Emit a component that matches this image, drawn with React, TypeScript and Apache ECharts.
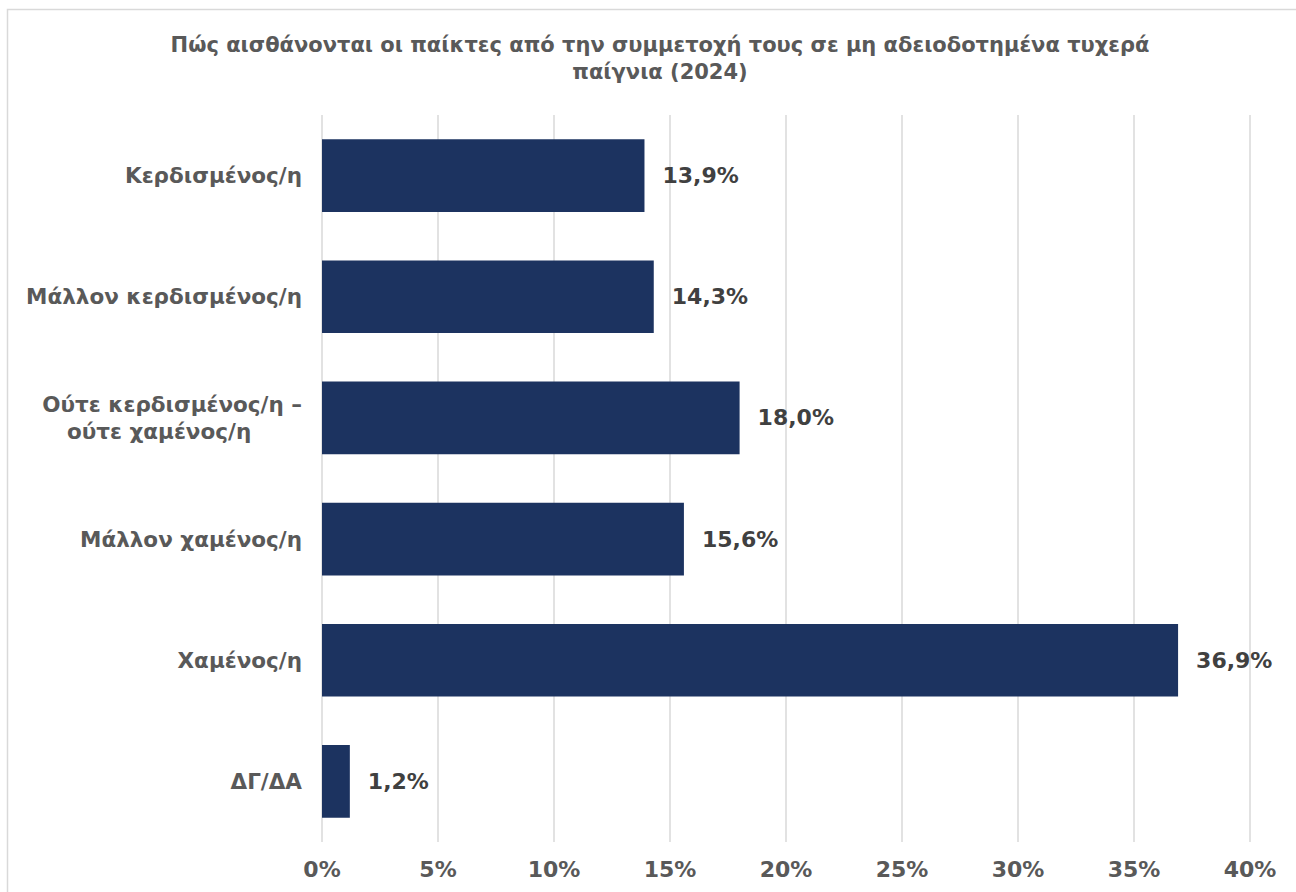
import React, { useEffect, useRef } from "react";
import * as echarts from "echarts";

const categories = [
  "Κερδισμένος/η",
  "Μάλλον κερδισμένος/η",
  "Ούτε κερδισμένος/η –\nούτε χαμένος/η",
  "Μάλλον χαμένος/η",
  "Χαμένος/η",
  "ΔΓ/ΔΑ",
];
const values = [13.9, 14.3, 18.0, 15.6, 36.9, 1.2];
const xTicks = { min: 0, max: 40, interval: 5 };
const titleText =
  "Πώς αισθάνονται οι παίκτες από την συμμετοχή τους σε μη αδειοδοτημένα τυχερά\nπαίγνια (2024)";

const FONT = "'DejaVu Sans', Verdana, sans-serif";

const labelStyle = {
  fontFamily: FONT,
  fontSize: 21.5,
  fontWeight: "bold",
  color: "#595959",
  lineHeight: 27,
  align: "center",
};

export default function App() {
  const ref = useRef<HTMLDivElement>(null);
  useEffect(() => {
    if (!ref.current) return;
    const chart = echarts.init(ref.current, null, { renderer: "svg" });
    chart.setOption({
      animation: false,
      backgroundColor: "#ffffff",
      textStyle: { fontFamily: FONT },
      title: {
        text: titleText,
        left: 660,
        top: 31,
        padding: 0,
        textAlign: "center",
        textStyle: {
          fontFamily: FONT,
          fontSize: 21,
          fontWeight: "bold",
          color: "#595959",
          lineHeight: 27,
        },
      },
      graphic: [
        {
          type: "rect",
          shape: { x: 7.5, y: 9.5, width: 1400, height: 1000 },
          style: { fill: "none", stroke: "#d9d9d9", lineWidth: 1.5 },
          silent: true,
          z: -1,
        },
      ],
      grid: { left: 322, right: 46, top: 115, bottom: 50, containLabel: false },
      xAxis: {
        type: "value",
        min: xTicks.min,
        max: xTicks.max,
        interval: xTicks.interval,
        axisLine: { show: false },
        axisTick: { show: false },
        splitLine: { show: true, lineStyle: { color: "#d9d9d9", width: 1.5 } },
        axisLabel: {
          formatter: "{value}%",
          fontFamily: FONT,
          fontSize: 22,
          fontWeight: "bold",
          color: "#595959",
          margin: 16,
        },
      },
      yAxis: {
        type: "category",
        data: categories,
        inverse: true,
        axisLine: { show: false },
        axisTick: { show: false },
        axisLabel: {
          margin: 20,
          formatter: (v: string) => {
            const lines = v.split("\n");
            return lines
              .map((l, i) => (i > 0 ? `{b|${l}}` : `{a|${l}}`))
              .join("\n");
          },
          rich: {
            a: labelStyle,
            b: { ...labelStyle, padding: [0, 26, 0, 0] },
          },
        },
      },
      series: [
        {
          type: "bar",
          data: values,
          barCategoryGap: "40%",
          itemStyle: { color: "#1c3360" },
          label: {
            show: true,
            position: "right",
            distance: 18,
            formatter: (p: any) => p.value.toFixed(1).replace(".", ",") + "%",
            fontFamily: FONT,
            fontSize: 22,
            fontWeight: "bold",
            color: "#404040",
          },
        },
      ],
    });
    return () => chart.dispose();
  }, []);
  return (
    <div
      ref={ref}
      style={{ position: "fixed", left: 0, top: 0, width: 1296, height: 892 }}
    />
  );
}
